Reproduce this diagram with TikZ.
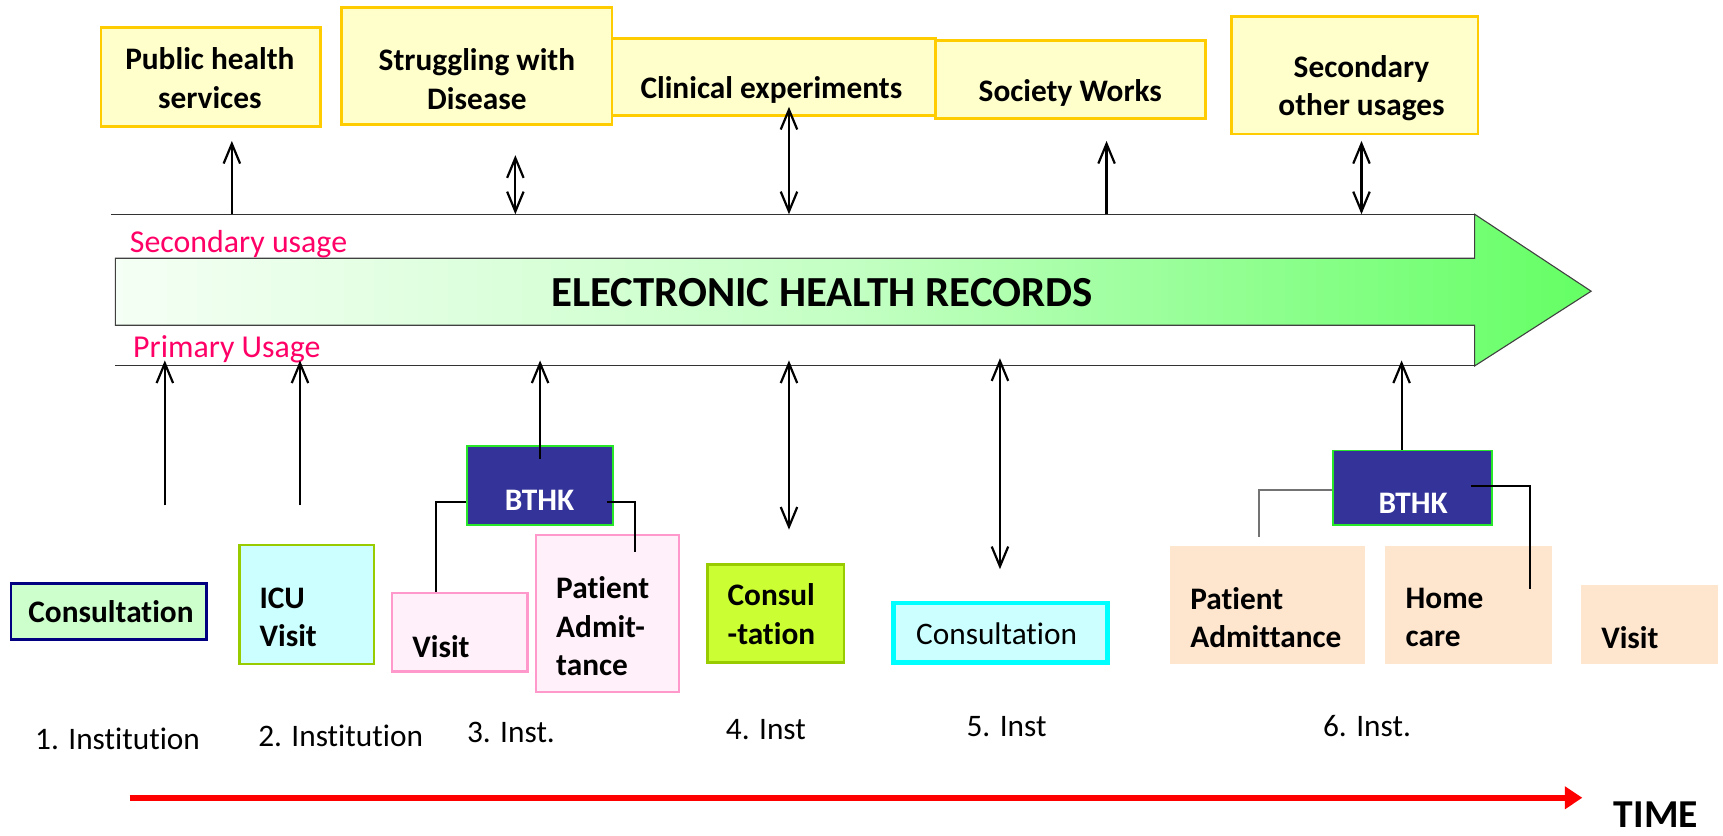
\documentclass[tikz,border=0pt]{standalone}
\usepackage{fontspec}
\setmainfont{Carlito}[Ligatures=NoCommon]
\usepackage{tikz}
\usetikzlibrary{arrows.meta, positioning}

\definecolor{boxyellow}{RGB}{255,255,204}
\definecolor{gold}{RGB}{255,204,0}
\definecolor{usagered}{RGB}{255,0,102}
\definecolor{bthkblue}{RGB}{51,51,153}
\definecolor{bthkline}{RGB}{40,230,40}
\definecolor{mintfill}{RGB}{204,255,204}
\definecolor{navyline}{RGB}{0,0,128}
\definecolor{icefill}{RGB}{204,255,255}
\definecolor{leafline}{RGB}{153,204,0}
\definecolor{pinkfill}{RGB}{255,240,250}
\definecolor{pinkline}{RGB}{255,153,204}
\definecolor{limefill}{RGB}{204,255,51}
\definecolor{cyanline}{RGB}{0,255,255}
\definecolor{peach}{RGB}{253,229,206}
\definecolor{ehrlight}{RGB}{245,255,245}
\definecolor{ehrmid}{RGB}{195,255,195}
\definecolor{ehrgreen}{RGB}{100,255,100}

\tikzset{
    >={Straight Barb[length=18pt,width=15pt]},
    usebox/.style={draw=gold, fill=boxyellow, line width=2.5pt, inner sep=0pt},
    instbox/.style={line width=2pt, inner sep=0pt},
    bthk/.style={draw=bthkline, fill=bthkblue, line width=1.5pt, inner sep=0pt},
    boldtext/.style={font=\bfseries\fontsize{28.5}{35}\selectfont, inner sep=0pt},
    plaintext/.style={font=\fontsize{28.5}{35}\selectfont, inner sep=0pt},
    usage/.style={font=\fontsize{29}{34}\selectfont, text=usagered, inner sep=0pt, anchor=west},
    flow/.style={line width=2pt},
    link/.style={line width=2pt},
    timeline/.style={line width=5pt, red, -{Triangle[length=16pt,width=20pt]}}
}

\begin{document}
\begin{tikzpicture}[x=1pt, y=-1pt]
    \useasboundingbox (0,0) rectangle (1568,760);

    % secondary usages
    \node[usebox, minimum width=200pt, minimum height=90pt] (ph) at (192,70) {};
    \node[usebox, minimum width=246pt, minimum height=106pt] (sd) at (434,60) {};
    \node[usebox, minimum width=294pt, minimum height=70pt] (ce) at (704,70) {};
    \node[usebox, minimum width=246pt, minimum height=71pt] (sw) at (974,72.5) {};
    \node[usebox, minimum width=224pt, minimum height=107pt] (so) at (1233,68.5) {};
    \node[boldtext, align=center] (ph-t) at (191,71) {Public health\\services};
    \node[boldtext, align=center] (sd-t) at (434,72) {Struggling with\\Disease};
    \node[boldtext] (ce-t) at (702,82) {Clinical experiments};
    \node[boldtext] (sw-t) at (974,85) {Society Works};
    \node[boldtext, align=center] (so-t) at (1239,80) {Secondary\\other usages};

    % the record arrow
    \shade[draw=black!75, line width=1pt, left color=ehrlight, right color=ehrgreen, middle color=ehrmid]
        (105,235) -- (1342,235) -- (1342,195) -- (1448,265) -- (1342,333) -- (1342,296) -- (105,296) -- cycle;
    \coordinate (top-l) at (101,195);
    \coordinate (top-r) at (1342,195);
    \coordinate (bot-l) at (105,333);
    \coordinate (bot-r) at (1342,333);
    \draw[line width=1pt, black!80] (top-l) -- (top-r);
    \draw[line width=1pt, black!80] (bot-l) -- (bot-r);
    \node[font=\bfseries\fontsize{39}{46}\selectfont, inner sep=0pt] (ehr) at (748,266) {ELECTRONIC HEALTH RECORDS};
    \node[usage] (sec) at (118,222) {Secondary usage};
    \node[usage] (pri) at (121,318) {Primary Usage};

    \coordinate (u1) at (211,195);
    \coordinate (u2) at (469,195);
    \coordinate (u3) at (718,195);
    \coordinate (u4) at (1007,195);
    \coordinate (u5) at (1239,195);
    \draw[flow, ->, shorten >=12pt] (u1) -- (u1 |- ph.south);
    \draw[flow, <->, shorten >=27pt] (u2) -- (u2 |- sd.south);
    \draw[flow, <->, shorten >=-9pt] (u3) -- (u3 |- ce.south);
    \draw[flow, ->, shorten >=19pt] (u4) -- (u4 |- sw.south);
    \draw[flow, <->, shorten >=5pt] (u5) -- (u5 |- so.south);

    % institutions
    \node[instbox, draw=navyline, fill=mintfill, minimum width=178pt, minimum height=51pt] (cons1) at (99,556.5) {};
    \node[instbox, draw=leafline, fill=icefill, minimum width=122pt, minimum height=108pt] (icu) at (279,550) {};
    \node[instbox, draw=pinkline, fill=pinkfill, minimum width=123pt, minimum height=71pt] (visit1) at (418.5,575.5) {};
    \node[instbox, draw=pinkline, fill=pinkfill, minimum width=130pt, minimum height=143pt] (admit1) at (553,558.5) {};
    \node[instbox, draw=leafline, fill=limefill, line width=2.5pt, minimum width=124pt, minimum height=89pt] (cons2) at (706,558.5) {};
    \node[instbox, draw=cyanline, fill=icefill, line width=4pt, minimum width=195pt, minimum height=54pt] (cons3) at (910.5,576) {};
    \node[instbox, fill=peach, minimum width=177pt, minimum height=107pt] (admit2) at (1153.5,550.5) {};
    \node[instbox, fill=peach, minimum width=152pt, minimum height=107pt] (home) at (1336,550.5) {};
    \node[instbox, fill=peach, minimum width=124pt, minimum height=72pt] (visit2) at (1501,568) {};
    \node[bthk, minimum width=133pt, minimum height=72pt] (bthk1) at (491.5,442) {};
    \node[bthk, minimum width=145pt, minimum height=68pt] (bthk2) at (1285.5,444) {};

    \node[boldtext] (cons1-t) at (101,557) {Consultation};
    \node[boldtext, align=left, anchor=west] (icu-t) at (236,562) {ICU\\Visit};
    \node[boldtext, anchor=west] (visit1-t) at (375,588) {Visit};
    \node[boldtext, align=left, anchor=west] (admit1-t) at (506,570) {Patient\\Admit-\\tance};
    \node[boldtext, align=left, anchor=west] (cons2-t) at (662,559) {Consul\\-tation};
    \node[plaintext] (cons3-t) at (907,577) {Consultation};
    \node[boldtext, align=left, anchor=west] (admit2-t) at (1083,562) {Patient\\Admittance};
    \node[boldtext, align=left, anchor=west] (home-t) at (1279,562) {Home\\care};
    \node[boldtext, anchor=west] (visit2-t) at (1457,580) {Visit};
    \node[boldtext, text=white] (bthk1-t) at (491,455) {BTHK};
    \node[boldtext, text=white] (bthk2-t) at (1286,458) {BTHK};

    \draw[link] ([yshift=-15pt]bthk1.west) -| ([xshift=-21.5pt]visit1.north);
    \draw[link] ([xshift=-6pt,yshift=-15pt]bthk1.east) -| ([xshift=25pt,yshift=-16pt]admit1.north);
    \draw[link, black!55] ([yshift=-2pt]bthk2.west) -| ([xshift=-7.5pt,yshift=7pt]admit2.north);
    \draw[link] ([xshift=-20pt,yshift=2pt]bthk2.east) -| ([xshift=56pt,yshift=-40pt]home.north);

    % primary usages
    \coordinate (t1) at (150,460);
    \coordinate (t2) at (273,460);
    \coordinate (t4) at (718,482);
    \coordinate (t5) at (910,518);
    \draw[flow, ->, shorten >=-5pt] (t1) -- (t1 |- bot-l);
    \draw[flow, ->, shorten >=-5pt] (t2) -- (t2 |- bot-l);
    \draw[flow, ->, shorten >=-5pt] ([yshift=-12pt]bthk1.north) -- (bthk1.north |- bot-l);
    \draw[flow, <->, shorten >=-5pt] (t4) -- (t4 |- bot-l);
    \draw[flow, <->, shorten >=-7pt] (t5) -- (t5 |- bot-l);
    \draw[flow, ->, shorten >=-5pt] ([xshift=-10pt]bthk2.north) -- ([xshift=-10pt]bthk2.north |- bot-l);

    % institution names and time
    \node[plaintext] (inst1) at (107,672) {1. Institution};
    \node[plaintext] (inst2) at (310,670) {2. Institution};
    \node[plaintext] (inst3) at (465,667) {3. Inst.};
    \node[plaintext] (inst4) at (697,664) {4. Inst};
    \node[plaintext] (inst5) at (916,661) {5. Inst};
    \node[plaintext] (inst6) at (1244,661) {6. Inst.};

    \coordinate (time-l) at (118,726);
    \coordinate (time-r) at (1440,726);
    \draw[timeline] (time-l) -- (time-r);
    \node[font=\bfseries\fontsize{36}{42}\selectfont, inner sep=0pt] (time) at (1507,741) {TIME};
\end{tikzpicture}
\end{document}
